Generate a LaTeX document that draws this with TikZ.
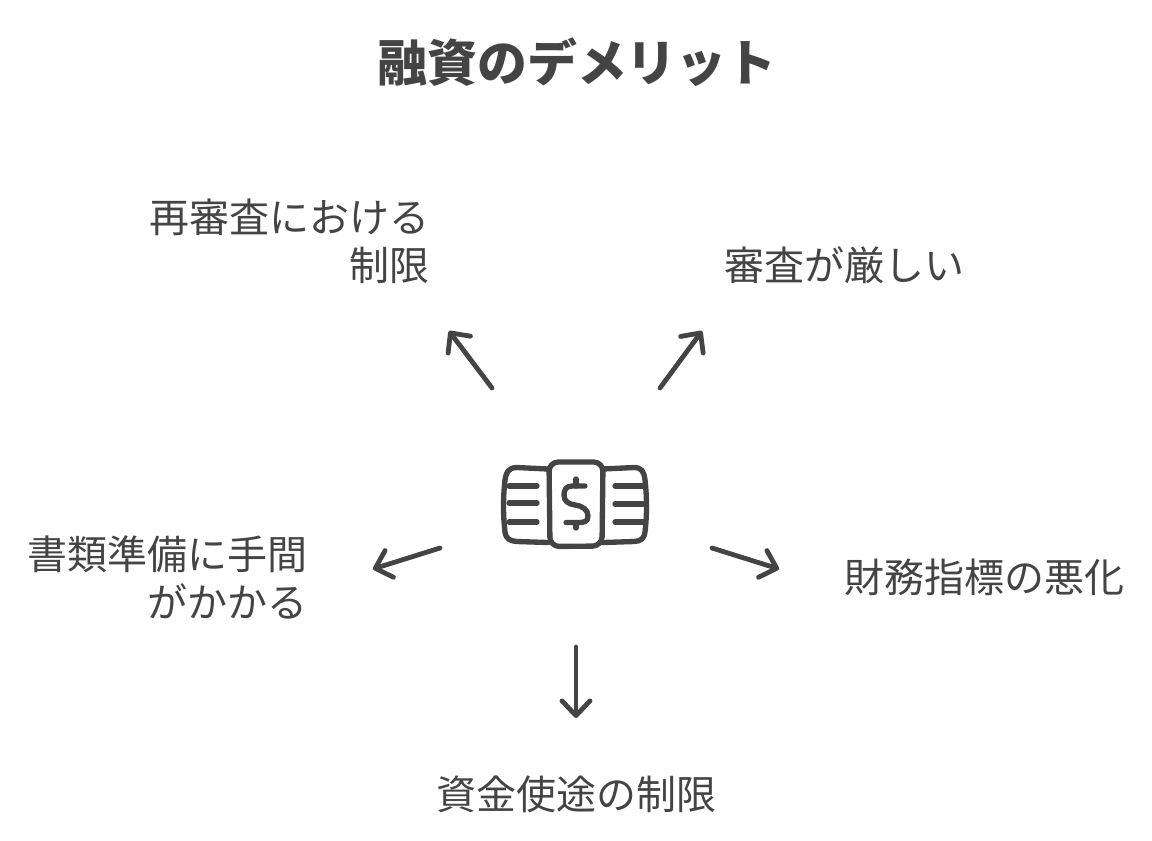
\documentclass[tikz,border=0pt]{standalone}
\usepackage{fontspec}
\setmainfont{Noto Sans CJK JP}
\usetikzlibrary{arrows.meta}
\definecolor{ink}{HTML}{444444}
\tikzset{
  label/.style={text=ink,font=\fontsize{30pt}{36pt}\selectfont,inner sep=0pt,align=right},
  titletext/.style={text=ink,font=\fontsize{37.4pt}{44pt}\selectfont\bfseries,inner sep=0pt},
  arrowline/.style={draw=ink,line width=3.6pt,line cap=round,-{Straight Barb[length=11pt,width=21pt,line width=3.6pt,round]}},
  iconline/.style={draw=ink,line width=4pt,line cap=round,line join=round}
}
\begin{document}
\begin{tikzpicture}[x=0.75pt,y=-0.75pt]
\useasboundingbox (0,0) rectangle (1152,840);
\node[titletext] (title) at (577,62) {融資のデメリット};
\node[label,anchor=east] (review) at (429.5,241) {再審査における\\制限};
\node[label,anchor=west] (strict) at (724,265) {審査が厳しい};
\node[label,anchor=east] (docs) at (308,577.5) {書類準備に手間\\がかかる};
\node[label,anchor=west] (finance) at (844.5,577) {財務指標の悪化};
\node[label] (usage) at (576.5,794) {資金使途の制限};
% icon
\begin{scope}[iconline]
\draw (548,469) -- (517,467.5) .. controls (508,467.5) and (506,473) .. (505,480)
  .. controls (503,498) and (503,515) .. (505,532) .. controls (506,539) and (510,541) .. (517,541.5) -- (548,542.5);
\draw (603,469) -- (634,467.5) .. controls (642,467.5) and (644,472) .. (645,480)
  .. controls (647,498) and (647,515) .. (645,532) .. controls (644,539) and (641,541) .. (634,541.5) -- (603,542.5);
\draw[rounded corners=7pt] (549,462) -- (603,462) -- (602,546) -- (550,546.5) -- cycle;
\draw (509,486) -- (537,486);
\draw (509,503) -- (537,503);
\draw (509,522) -- (537,522);
\draw (615,486) -- (643,486);
\draw (615,504) -- (643,504);
\draw (615,522) -- (643,522);
\draw (585,486) -- (572,486) .. controls (566,486) and (564,490) .. (564,495)
  .. controls (564,501) and (568,504) .. (575,505) .. controls (583,506) and (588,510) .. (588,516)
  .. controls (588,522) and (584,522.5) .. (578,522.5) -- (566,522.5);
\draw (576,479) -- (576,486);
\draw (576,522.5) -- (576,528);
\end{scope}
% connector ends
\coordinate (s1) at (492,388); \coordinate (t1) at (449,331);
\coordinate (s2) at (660,388); \coordinate (t2) at (702,331);
\coordinate (s3) at (440,548); \coordinate (t3) at (373,569);
\coordinate (s4) at (712,548); \coordinate (t4) at (779,569);
\coordinate (s5) at (576,647); \coordinate (t5) at (576,718);
\draw[arrowline] (s1) -- (t1);
\draw[arrowline] (s2) -- (t2);
\draw[arrowline] (s3) -- (t3);
\draw[arrowline] (s4) -- (t4);
\draw[arrowline] (s5) -- (t5);
\end{tikzpicture}
\end{document}
